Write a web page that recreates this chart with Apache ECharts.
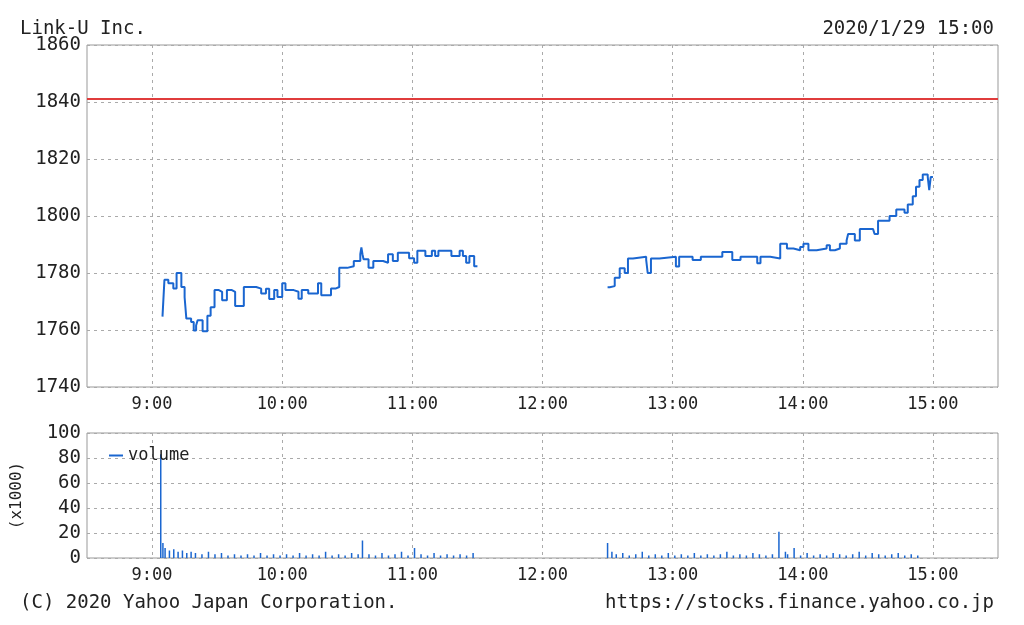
<!DOCTYPE html>
<html><head><meta charset="utf-8">
<script src="https://cdn.jsdelivr.net/npm/echarts@6/dist/echarts.min.js"></script>
<style>html,body{margin:0;padding:0;background:#fff}#c{width:1024px;height:625px}</style>
</head><body><div id="c"></div>
<script>
// times in minutes since midnight
const hourTicks = [540, 600, 660, 720, 780, 840, 900];
const priceT = [544.8,545.7,547.5,549.8,551.3,553.5,555,555.8,558,559.2,560.3,561,563.3,565.5,567,568.8,570.8,572.3,574.5,576.8,578.3,582.3,588,590.3,592.5,594,596.3,597.8,600,601.5,605.3,607.5,609,612,616.5,618,622.5,624.8,626.3,630,633,636,636.5,637,637.5,639.8,642,646.5,648.8,651,653.3,658.5,660.8,662.3,666,669,670.5,672,678,681.8,683.3,684.8,686.3,688.5,690,
  null,
  750,751,753.3,755.6,757.9,759.4,761.7,767.8,768.5,770,773.9,781.5,783,789.2,793,802.9,807.5,811.3,819,820.5,825,829.6,832.7,835.7,838.8,840.3,842.6,846.4,851,852.5,854.8,857.1,860.2,860.9,864,866.3,872.4,873.1,874.7,880,883.1,886.9,888.4,890.7,892.2,893.8,895.3,897.6,898.3,899,900];
const priceV = [1764.7,1777.6,1776.4,1774.6,1780,1775.1,1771.5,1764,1762.8,1759.8,1761.6,1763.4,1759.6,1765,1768,1774,1773.4,1770.4,1774,1773.4,1768.4,1775.1,1774.5,1772.8,1774.5,1770.9,1774,1771.6,1776.4,1774,1773.4,1771,1774,1772.8,1776.4,1772.2,1774.6,1775.1,1781.8,1782.4,1784.2,1786.6,1789,1786.6,1784.8,1781.8,1784.2,1783.6,1786.6,1784.2,1787.1,1785.2,1783.6,1787.8,1786,1787.8,1786,1787.8,1786,1787.8,1786,1783.6,1786,1782.4,1782.4,
  null,
  1775,1775.4,1778.3,1781.7,1780,1785.1,1785.7,1784.6,1780,1785.1,1785.7,1782.3,1785.7,1784.6,1785.7,1787.4,1784.6,1785.7,1783.4,1785.7,1785.1,1790.3,1788.6,1788,1789.1,1790.3,1788,1788.6,1789.7,1788,1788.6,1790.3,1791.4,1793.7,1791.4,1795.4,1795.4,1793.7,1798.3,1800,1802.3,1801.1,1804,1806.9,1810.3,1812.6,1814.6,1813.7,1809.1,1813.7,1813.7];
const prevClose = 1841;
const volT = [544,545,546,548,550,552,554,556,558,560,563,566,569,572,575,578,581,584,587,590,593,596,599,602,605,608,611,614,617,620,623,626,629,632,635,637,640,643,646,649,652,655,658,661,664,667,670,673,676,679,682,685,688,
  750,752,754,757,760,763,766,769,772,775,778,781,784,787,790,793,796,799,802,805,808,811,814,817,820,823,826,829,832,833,836,839,842,845,848,851,854,857,860,863,866,869,872,875,878,881,884,887,890,893];
const volV = [83,12,8,6,7,5,6,4,5,4,3,5,3,4,2,3,2,3,2,4,2,3,2,3,2,4,2,3,2,5,2,3,2,4,3,14,3,2,4,2,3,5,2,8,3,2,4,2,3,2,3,2,4,
  12,5,3,4,2,3,5,2,3,2,4,2,3,2,4,2,3,2,3,5,2,3,2,4,3,2,3,21,5,3,8,2,4,2,3,2,4,3,2,3,5,2,4,3,2,3,4,2,3,2];

const font = 'DejaVu Sans Mono';
const FS = 17;
const pts = priceT.map((t,i)=> t===null ? [null,null] : [t, priceV[i]]);
const vol = volT.map((t,i)=>[t, volV[i]]);
const fmt = v => Math.floor(v/60)+':'+String(v%60).padStart(2,'0');
const grid = { show:true, borderColor:'#999', borderWidth:1 };
const split = { show:true, lineStyle:{ color:'#aaa', type:[3,4], width:1 } };
const lbl = { fontFamily:font, fontSize:FS, color:'#222' };
const ylbl = { fontFamily:font, fontSize:19, color:'#222' };
const xBase = (gi)=>({ type:'value', gridIndex:gi, min:510, max:930,
  axisLine:{show:false}, axisTick:{show:false, customValues:hourTicks},
  axisLabel:Object.assign({ customValues:hourTicks, formatter:fmt, margin:9 }, lbl),
  splitLine:split });
const tstyle = {fontFamily:font, fontSize:19, fontWeight:'normal', color:'#222'};
const chart = echarts.init(document.getElementById('c'));
chart.setOption({
  animation:false,
  title:[
    {text:'Link-U Inc.', left:15, top:15, textStyle:tstyle},
    {text:'2020/1/29 15:00', right:25, top:15, textStyle:tstyle},
    {text:'(C) 2020 Yahoo Japan Corporation.', left:15, top:589, textStyle:tstyle},
    {text:'https://stocks.finance.yahoo.co.jp', right:25, top:589, textStyle:tstyle}
  ],
  legend:{ data:['volume'], left:104, top:442, itemWidth:14, itemHeight:2, icon:'rect', itemGap:4,
    textStyle:lbl },
  grid:[ Object.assign({left:87, right:26, top:45, height:342}, grid),
         Object.assign({left:87, right:26, top:433, height:125}, grid) ],
  xAxis:[ xBase(0), xBase(1) ],
  yAxis:[
    { type:'value', gridIndex:0, min:1740, max:1860, interval:20, axisLine:{show:false}, axisTick:{show:false},
      axisLabel:Object.assign({margin:6, formatter:v=>String(v)}, ylbl), splitLine:split },
    { type:'value', gridIndex:1, min:0, max:100, interval:20, axisLine:{show:false}, axisTick:{show:false},
      axisLabel:Object.assign({margin:6, formatter:v=>String(v)}, ylbl), splitLine:split,
      name:'(x1000)', nameLocation:'middle', nameRotate:90, nameGap:62,
      nameTextStyle:{fontFamily:font, fontSize:16, color:'#222'} }
  ],
  series:[
    { type:'line', name:'price', xAxisIndex:0, yAxisIndex:0, data:pts, step:'end', showSymbol:false, connectNulls:false,
      lineStyle:{color:'#1a66d0', width:2},
      markLine:{ silent:true, symbol:'none', label:{show:false},
        lineStyle:{color:'#e03c3c', width:2, type:'solid'}, data:[{yAxis:prevClose}] } },
    { type:'bar', name:'volume', xAxisIndex:1, yAxisIndex:1, data:vol, barWidth:1.5,
      itemStyle:{color:'#1a66d0'} }
  ]
});
</script></body></html>
